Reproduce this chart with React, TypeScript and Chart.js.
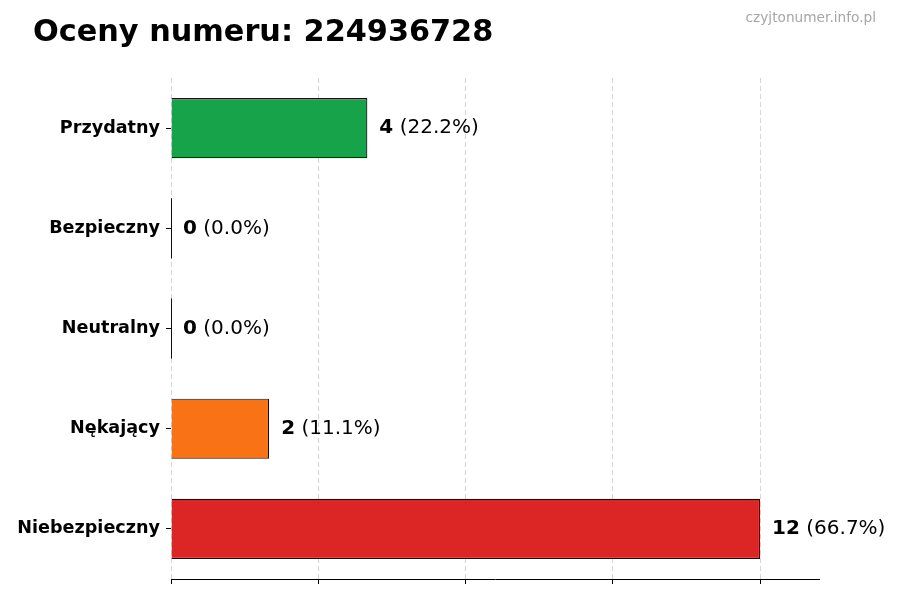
import React, { useEffect, useRef } from "react";
import { Chart, registerables } from "chart.js";

Chart.register(...registerables);

const categories = ["Przydatny", "Bezpieczny", "Neutralny", "Nękający", "Niebezpieczny"];
const counts = [4, 0, 0, 2, 12];
const percents = ["22.2%", "0.0%", "0.0%", "11.1%", "66.7%"];
const barColors = ["#16a34a", "#16a34a", "#9ca3af", "#f97316", "#dc2626"];
const xTicks = [0, 3, 6, 9, 12];
const xMax = 13.2;
const titleText = "Oceny numeru: 224936728";
const watermark = "czyjtonumer.info.pl";

const FONT = "'DejaVu Sans', sans-serif";

const overlayPlugin = {
  id: "overlay",
  afterDatasetsDraw(chart: any) {
    const ctx = chart.ctx;
    const meta = chart.getDatasetMeta(0);
    const xScale = chart.scales.x;
    ctx.save();
    meta.data.forEach((bar: any, i: number) => {
      const v = counts[i];
      const yc = bar.y;
      const h = bar.height;
      if (v === 0) {
        const x0 = xScale.getPixelForValue(0);
        ctx.strokeStyle = "#111";
        ctx.lineWidth = 1;
        ctx.beginPath();
        ctx.moveTo(x0 + 0.5, yc - h / 2);
        ctx.lineTo(x0 + 0.5, yc + h / 2);
        ctx.stroke();
      }
      const xEnd = xScale.getPixelForValue(v);
      let x = xEnd + 12;
      ctx.textBaseline = "middle";
      ctx.textAlign = "left";
      ctx.fillStyle = "#000";
      ctx.font = `bold 20px ${FONT}`;
      const num = String(v);
      ctx.fillText(num, x, yc);
      x += ctx.measureText(num).width;
      ctx.font = `20px ${FONT}`;
      ctx.fillText(` (${percents[i]})`, x, yc);
    });
    ctx.restore();
  },
  afterDraw(chart: any) {
    const ctx = chart.ctx;
    ctx.save();
    ctx.fillStyle = "#000";
    ctx.font = `bold 30.3px ${FONT}`;
    ctx.textAlign = "left";
    ctx.textBaseline = "alphabetic";
    ctx.fillText(titleText, 33, 41);
    ctx.fillStyle = "#a6a6a6";
    ctx.font = `13.7px ${FONT}`;
    ctx.textAlign = "right";
    ctx.fillText(watermark, 876, 22);
    ctx.restore();
  },
};

export default function App() {
  const ref = useRef<HTMLCanvasElement | null>(null);
  useEffect(() => {
    if (!ref.current) return;
    const chart = new Chart(ref.current, {
      type: "bar",
      data: {
        labels: categories,
        datasets: [
          {
            data: counts,
            backgroundColor: barColors,
            borderColor: "#111",
            borderWidth: 1.2,
            barPercentage: 0.6,
            categoryPercentage: 1,
          },
        ],
      },
      options: {
        indexAxis: "y",
        animation: false,
        responsive: false,
        maintainAspectRatio: false,
        layout: { padding: { top: 78, right: 81, left: 0, bottom: 0 } },
        plugins: {
          legend: { display: false },
          tooltip: { enabled: false },
          title: { display: false },
        },
        scales: {
          x: {
            min: 0,
            max: xMax,
            afterBuildTicks(scale: any) {
              scale.ticks = xTicks.map((v) => ({ value: v }));
            },
            afterFit(scale: any) {
              scale.height = 21;
            },
            ticks: { display: false },
            grid: {
              display: true,
              drawOnChartArea: true,
              drawTicks: true,
              tickLength: 5,
              color: "#d4d4d4",
              lineWidth: 1,
              tickColor: "#000",
              tickBorderDash: [],
            },
            border: { display: true, color: "#000", width: 1, dash: [5, 3] },
          },
          y: {
            afterFit(scale: any) {
              scale.width = 171;
            },
            ticks: {
              color: "#000",
              padding: 6,
              font: { family: FONT, size: 17.6, weight: "bold" },
            },
            grid: {
              display: true,
              offset: false,
              drawOnChartArea: false,
              drawTicks: true,
              tickLength: 5,
              tickColor: "#000",
              color: "#000",
            },
            border: { display: false },
          },
        },
      },
      plugins: [overlayPlugin],
    } as any);
    return () => chart.destroy();
  }, []);
  return (
    <div style={{ position: "absolute", left: 0, top: 0, width: 900, height: 600, background: "#fff" }}>
      <canvas ref={ref} width={900} height={600} style={{ width: 900, height: 600 }} />
    </div>
  );
}
